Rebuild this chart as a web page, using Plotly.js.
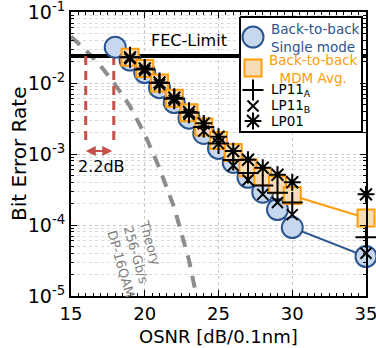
<!DOCTYPE html>
<html>
<head>
<meta charset="utf-8">
<script src="https://cdn.plot.ly/plotly-3.0.1.min.js"></script>
<style>html,body{margin:0;padding:0;background:#fff;}#chart{width:376px;height:348px;}</style>
</head>
<body>
<div id="chart"></div>
<script>
// ---- data ----
const singleOSNR = [18,19,20,21,22,23,24,25,26,27,28,29,30,35];
const singleBER  = [3.2e-2,2.1e-2,1.4e-2,8.6e-3,5.3e-3,3.2e-3,1.95e-3,1.2e-3,7.6e-4,4.7e-4,2.9e-4,1.65e-4,9.2e-5,3.6e-5];
const mdmOSNR    = [19,20,21,22,23,24,25,26,27,28,29,30,35];
const mdmBER     = [2.3e-2,1.6e-2,1.0e-2,6.1e-3,3.8e-3,2.4e-3,1.55e-3,1.05e-3,6.4e-4,4.8e-4,3.7e-4,2.6e-4,1.25e-4];
const lp11aBER   = [2.3e-2,1.55e-2,1.0e-2,6.0e-3,3.8e-3,2.4e-3,1.4e-3,8.2e-4,5.4e-4,3.6e-4,2.85e-4,2.07e-4,6.7e-5];
const lp11bBER   = [2.2e-2,1.5e-2,9.5e-3,5.7e-3,3.6e-3,2.1e-3,1.4e-3,6.9e-4,4.3e-4,2.7e-4,2.07e-4,1.4e-4,4.0e-5];
const lp01BER    = [2.3e-2,1.6e-2,1.02e-2,6.2e-3,3.9e-3,2.7e-3,1.75e-3,1.1e-3,8.3e-4,6.4e-4,5.1e-4,4.0e-4,2.7e-4];
const theoryOSNR = [15,16,17,18,19,20,21,22,23,23.5];
const theoryBER  = [4.5e-2,2.9e-2,1.75e-2,9.5e-3,4.7e-3,1.9e-3,6.3e-4,1.75e-4,3.2e-5,1e-5];
const fecOSNR    = [15,35];
const fecBER     = [2.4e-2,2.4e-2];
const gapLeftX   = [16.0,16.0];
const gapRightX  = [17.9,17.9];
const gapBER     = [2.4e-2,1.3e-3];
const xTicks     = [15,20,25,30,35];
const yExponents = [-5,-4,-3,-2,-1];
const yTickText  = ['10<sup>-5</sup>','10<sup>-4</sup>','10<sup>-3</sup>','10<sup>-2</sup>','10<sup>-1</sup>'];
const legendNames = ['Back-to-back<br>Single mode','Back-to-back<br>MDM Avg.','LP11<sub>A</sub>','LP11<sub>B</sub>','LP01'];

const yTicks = yExponents.map(e => Math.pow(10, e));
const yMinor = [];
yExponents.slice(0, -1).forEach(e => { for (let k = 2; k <= 9; k++) yMinor.push(k * Math.pow(10, e)); });

const blue = '#2B5591', blueFill = '#C6D7EE';
const orange = '#FF9D0A', orangeFill = '#F7DDB6';
const red = '#C5504A';
const font = 'DejaVu Sans, Verdana, sans-serif';

const mCircle = {symbol:'circle', size:21, color:blueFill, line:{color:blue, width:2}};
const mSquare = {symbol:'square', size:17, color:orangeFill, line:{color:orange, width:2}};
const mPlus   = {symbol:'cross-thin-open', size:15, color:'#000', line:{color:'#000', width:2}};
const mX      = {symbol:'x-thin-open', size:11, color:'#000', line:{color:'#000', width:2}};
const mStar   = {symbol:'asterisk-open', size:14, color:'#000', line:{color:'#000', width:2}};

// plot-area geometry (pixels) used only to place the hand-made legend and titles
const L = 71, R = 366, T = 12, B = 296;
const pxX = p => 15 + (p - L) / (R - L) * 20;
const pxY = p => Math.pow(10, -1 - (p - T) / (B - T) * 4);
const pxPX = p => (p - L) / (R - L);
const pxPY = p => (B - p) / (B - T);

const lgBox = {x0:240, x1:362, y0:17, y1:132};
const lgMarkX = 253, lgTextX = 269;
const lgMarkY = [37, 68, 90, 106, 121];
const lgTextY = [38, 69, 90, 106, 121];
const lgMarkers = [mCircle, mSquare, mPlus, mX, mStar];
const lgColors = [blue, orange, '#000', '#000', '#000'];

const traces = [
  {x: theoryOSNR, y: theoryBER, mode:'lines', line:{color:'#8C8C8C', width:4, dash:'12px,9px'}, hoverinfo:'skip'},
  {x: fecOSNR, y: fecBER, mode:'lines', line:{color:'#000', width:4}},
  {x: gapLeftX, y: gapBER, mode:'lines', line:{color:red, width:3, dash:'9px,6px'}},
  {x: gapRightX, y: gapBER, mode:'lines', line:{color:red, width:3, dash:'9px,6px'}},
  {x: singleOSNR, y: singleBER, mode:'lines+markers', cliponaxis:false, line:{color:blue, width:2}, marker:mCircle},
  {x: mdmOSNR, y: mdmBER, mode:'lines+markers', cliponaxis:false, line:{color:orange, width:2}, marker:mSquare},
  {x: mdmOSNR, y: lp11aBER, mode:'markers', cliponaxis:false, marker:mPlus},
  {x: mdmOSNR, y: lp11bBER, mode:'markers', cliponaxis:false, marker:mX},
  {x: mdmOSNR, y: lp01BER, mode:'markers', cliponaxis:false, marker:mStar},
  // legend box
  {x:[lgBox.x0,lgBox.x1,lgBox.x1,lgBox.x0,lgBox.x0].map(pxX), y:[lgBox.y0,lgBox.y0,lgBox.y1,lgBox.y1,lgBox.y0].map(pxY),
   mode:'lines', fill:'toself', fillcolor:'#fff', line:{color:'#000', width:2}}
];
lgMarkers.forEach((m,i)=>{
  traces.push({x:[pxX(lgMarkX)], y:[pxY(lgMarkY[i])], mode:'markers', cliponaxis:false, marker:m});
});

const annotations = [
  {x:23.0, y:Math.log10(4.0e-2), xref:'x', yref:'y', text:'FEC-Limit', showarrow:false, font:{size:16}},
  {x:16.0, y:Math.log10(1.1e-3), ax:17.9, ay:Math.log10(1.1e-3), xref:'x', yref:'y', axref:'x', ayref:'y',
   text:'', showarrow:true, arrowhead:2, arrowside:'end+start', arrowcolor:red, arrowwidth:2, arrowsize:1},
  {x:17.1, y:Math.log10(6.6e-4), xref:'x', yref:'y', text:'2.2dB', showarrow:false, font:{size:16}},
  {x:19.5, y:Math.log10(3.3e-5), xref:'x', yref:'y', text:'Theory<br>256-Gb/s<br>DP-16QAM', showarrow:false,
   textangle:74, align:'left', font:{size:13, color:'#7F7F7F'}},
  // axis titles
  {x:pxPX(218), y:pxPY(336), xref:'paper', yref:'paper', xanchor:'center', yanchor:'middle', showarrow:false,
   text:'OSNR [dB/0.1nm]', font:{size:18}},
  {x:pxPX(19), y:pxPY(154), xref:'paper', yref:'paper', xanchor:'center', yanchor:'middle', showarrow:false,
   text:'Bit Error Rate', textangle:-90, font:{size:20}}
];
legendNames.forEach((t,i)=>{
  const centered = i === 1;
  annotations.push({x: pxPX(centered ? 313 : lgTextX), y: pxPY(lgTextY[i]), xref:'paper', yref:'paper', text:t, showarrow:false,
    xanchor: centered ? 'center' : 'left', yanchor:'middle', align: centered ? 'center' : 'left',
    font:{size:13.5, color:lgColors[i]}});
});

const layout = {
  width:376, height:348,
  margin:{l:L, r:376-R, t:T, b:348-B},
  paper_bgcolor:'#fff', plot_bgcolor:'#fff',
  font:{family:font, color:'#000', size:18},
  showlegend:false,
  xaxis:{range:[15,35], tickvals:xTicks, showline:true, linecolor:'#000', linewidth:2, mirror:'ticks',
         ticks:'inside', ticklen:6, tickcolor:'#000', showgrid:true, gridcolor:'#C8C8C8', griddash:'dot',
         zeroline:false, tickfont:{size:18}, ticklabeloverflow:'allow',
         minor:{dtick:0.5, ticks:'inside', ticklen:3, tickcolor:'#000', showgrid:false}},
  yaxis:{type:'log', range:[-5,-1], tickmode:'array', tickvals:yTicks, ticktext:yTickText, ticklabeloverflow:'allow',
         showline:true, linecolor:'#000', linewidth:2,
         mirror:'ticks', ticks:'inside', ticklen:6, tickcolor:'#000', showgrid:true, gridcolor:'#C8C8C8', griddash:'dot',
         zeroline:false, tickfont:{size:19},
         minor:{tickmode:'array', tickvals:yMinor, ticks:'inside', ticklen:3, tickcolor:'#000', showgrid:true, gridcolor:'#DADADA', griddash:'dot'}},
  annotations: annotations
};

Plotly.newPlot('chart', traces, layout, {staticPlot:true, displayModeBar:false});
</script>
</body>
</html>
